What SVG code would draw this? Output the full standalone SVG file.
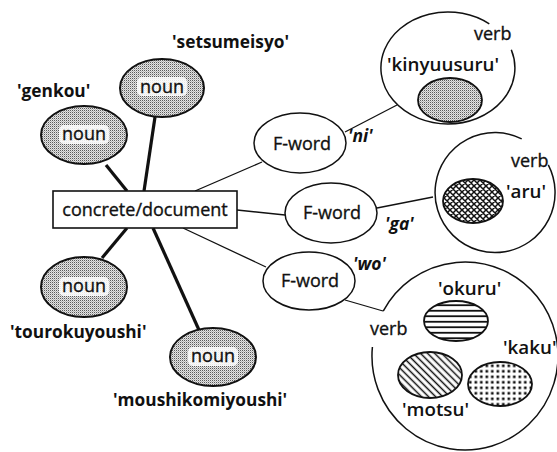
<svg xmlns="http://www.w3.org/2000/svg" width="557" height="452" viewBox="0 0 557 452">
  <style>
    text { font-family: "Open Sans", "Liberation Sans", sans-serif; fill: #111; }
    .t { font-size: 18px; stroke: #111; stroke-width: 0.35; }
    .c { text-anchor: middle; }
    .lbl { font-size: 17.3px; font-weight: 700; }
    .word { font-size: 18.8px; font-weight: 600; }
    .case { font-size: 17.5px; font-weight: 700; font-style: italic; }
    .thin { stroke: #111; stroke-width: 1.3; fill: none; }
    .thick { stroke: #111; stroke-width: 3.2; fill: none; }
    .noun { fill: url(#stipple); stroke: #111; stroke-width: 2; }
    .oval { fill: #fff; stroke: #111; stroke-width: 1.5; }
    .ring { fill: none; stroke: #111; stroke-width: 1.5; }
    .knock { fill: #fff; fill-opacity: 0.85; }
  </style>
  <defs>
    <pattern id="stipple" width="2" height="2" patternUnits="userSpaceOnUse">
      <rect width="2" height="2" fill="#e4e4e4"/>
      <rect width="1" height="1" fill="#5a5a5a"/>
      <rect x="1" y="1" width="1" height="1" fill="#b4b4b4"/>
    </pattern>
    <pattern id="cross" width="6" height="6" patternUnits="userSpaceOnUse">
      <rect width="6" height="6" fill="#fff"/>
      <path d="M-1 1 L1 -1 M0 6 L6 0 M5 7 L7 5 M-1 5 L1 7 M0 0 L6 6 M5 -1 L7 1" stroke="#111" stroke-width="1.5"/>
    </pattern>
    <pattern id="hstripe" width="8" height="5.5" patternUnits="userSpaceOnUse">
      <rect width="8" height="5.5" fill="#fff"/>
      <line x1="0" y1="2.75" x2="8" y2="2.75" stroke="#111" stroke-width="1.8"/>
    </pattern>
    <pattern id="dstripe" width="5" height="5" patternUnits="userSpaceOnUse" patternTransform="rotate(45)">
      <rect width="5" height="5" fill="#fff"/>
      <line x1="0" y1="2.5" x2="5" y2="2.5" stroke="#111" stroke-width="1.5"/>
    </pattern>
    <pattern id="dots" width="5.5" height="5.5" patternUnits="userSpaceOnUse">
      <rect width="5.5" height="5.5" fill="#fff"/>
      <rect x="1.5" y="1.5" width="2.6" height="2.6" fill="#111"/>
    </pattern>
  </defs>

  <!-- connectors -->
  <g id="connectors">
    <line class="thick" x1="106" y1="165" x2="127" y2="191"/>
    <line class="thick" x1="155" y1="117" x2="144" y2="191"/>
    <line class="thick" x1="127" y1="228" x2="102" y2="258"/>
    <line class="thick" x1="153" y1="228" x2="199" y2="330"/>
    <line class="thin" x1="195" y1="191" x2="262" y2="162"/>
    <line class="thin" x1="345" y1="132" x2="397" y2="105"/>
    <line class="thin" x1="237" y1="210" x2="285" y2="215"/>
    <line class="thin" x1="377" y1="208" x2="433" y2="197"/>
    <line class="thin" x1="183" y1="228" x2="266" y2="267"/>
    <line class="thin" x1="345" y1="300" x2="383" y2="311"/>
  </g>

  <!-- central concept -->
  <g id="concrete-document">
    <rect x="53" y="191" width="184" height="37" fill="#fff" stroke="#111" stroke-width="1.6"/>
    <text class="t c" x="145" y="216">concrete/document</text>
  </g>

  <!-- noun nodes -->
  <g id="noun-setsumeisyo">
    <ellipse class="noun" cx="162" cy="88" rx="42" ry="29"/>
    <rect class="knock" x="137" y="77" width="50" height="19" rx="5"/>
    <text class="t c" x="162" y="93">noun</text>
    <text class="lbl" x="172" y="48">'setsumeisyo'</text>
  </g>
  <g id="noun-genkou">
    <ellipse class="noun" cx="84" cy="135" rx="43" ry="29"/>
    <rect class="knock" x="59" y="125" width="50" height="19" rx="5"/>
    <text class="t c" x="84" y="140">noun</text>
    <text class="lbl" x="17" y="97">'genkou'</text>
  </g>
  <g id="noun-tourokuyoushi">
    <ellipse class="noun" cx="84" cy="287" rx="43" ry="30"/>
    <rect class="knock" x="59" y="277" width="50" height="19" rx="5"/>
    <text class="t c" x="84" y="292">noun</text>
    <text class="lbl" x="10" y="338">'tourokuyoushi'</text>
  </g>
  <g id="noun-moushikomiyoushi">
    <ellipse class="noun" cx="213" cy="357" rx="43" ry="29"/>
    <rect class="knock" x="188" y="347" width="50" height="19" rx="5"/>
    <text class="t c" x="213" y="362">noun</text>
    <text class="lbl" x="113" y="406">'moushikomiyoushi'</text>
  </g>

  <!-- function words -->
  <g id="fword-ni">
    <ellipse class="oval" cx="300" cy="143" rx="46" ry="30"/>
    <text class="t c" x="302" y="150">F-word</text>
    <text class="case" x="348" y="142">'ni'</text>
  </g>
  <g id="fword-ga">
    <ellipse class="oval" cx="331" cy="213" rx="46" ry="30"/>
    <text class="t c" x="332" y="219">F-word</text>
    <text class="case" x="385" y="230">'ga'</text>
  </g>
  <g id="fword-wo">
    <ellipse class="oval" cx="309" cy="281" rx="46" ry="29"/>
    <text class="t c" x="310" y="287">F-word</text>
    <text class="case" x="353" y="270">'wo'</text>
  </g>

  <!-- verb sets -->
  <g id="verb-kinyuusuru">
    <path class="ring" d="M511.3 49.8 A67 56 0 1 1 489.3 23.9"/>
    <text class="t" x="474" y="40">verb</text>
    <text class="word" x="387" y="71">'kinyuusuru'</text>
    <ellipse cx="450" cy="100" rx="32" ry="22" fill="url(#stipple)" stroke="#111" stroke-width="1.8"/>
  </g>
  <g id="verb-aru">
    <path class="ring" d="M548.3 164.9 A60 60 0 1 1 521.7 138.8"/>
    <text class="t" x="511" y="167">verb</text>
    <text class="word" x="506" y="198">'aru'</text>
    <ellipse cx="473" cy="201" rx="30" ry="22" fill="url(#cross)" stroke="#111" stroke-width="1.8"/>
  </g>
  <g id="verb-okuru-motsu-kaku">
    <path class="ring" d="M383.2 311.2 A93 94 0 1 1 372.4 347"/>
    <text class="t" x="370" y="335">verb</text>
    <text class="word" x="438" y="295">'okuru'</text>
    <ellipse cx="456" cy="321" rx="32" ry="20" fill="url(#hstripe)" stroke="#111" stroke-width="1.8"/>
    <text class="word" x="503" y="354">'kaku'</text>
    <ellipse cx="500" cy="384" rx="32" ry="22" fill="url(#dots)" stroke="#111" stroke-width="1.8"/>
    <ellipse cx="430" cy="375" rx="32" ry="23" fill="url(#dstripe)" stroke="#111" stroke-width="1.8"/>
    <text class="word" x="402" y="416">'motsu'</text>
  </g>
</svg>
